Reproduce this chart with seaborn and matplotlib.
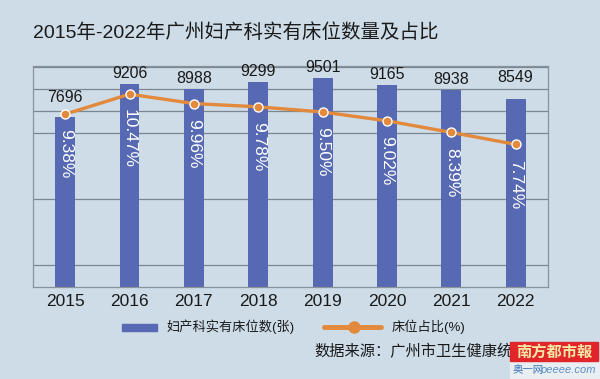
import numpy as np
import matplotlib.pyplot as plt
import seaborn as sns
import pandas as pd

years = ["2015", "2016", "2017", "2018", "2019", "2020", "2021", "2022"]
beds = [7696, 9206, 8988, 9299, 9501, 9165, 8938, 8549]
share = [9.38, 10.47, 9.96, 9.78, 9.50, 9.02, 8.39, 7.74]
share_labels = ["9.38%", "10.47%", "9.96%", "9.78%", "9.50%", "9.02%", "8.39%", "7.74%"]
grid_ticks = [1000, 4000, 7000, 8000, 9000, 10000]

TITLE = "2015年-2022年广州妇产科实有床位数量及占比"
BAR_NAME = "妇产科实有床位数(张)"
LINE_NAME = "床位占比(%)"
SOURCE = "数据来源：广州市卫生健康统计"

BG = "#cddce7"
BLUE = "#5669b2"
ORANGE = "#e2893b"
GRID = "#7c8690"
# extra lift (points) for value labels that sit clear of the line in the original
LABEL_LIFT = {0: 7, 7: 8}

df = pd.DataFrame({"year": years, "beds": beds, "share": share})

sns.set_style("white")
plt.rcParams["font.family"] = ["Liberation Sans", "Noto Sans CJK SC", "DejaVu Sans"]

fig = plt.figure(figsize=(6, 3.79), dpi=100, facecolor=BG)
ax = fig.add_axes([0.055, 0.2435, 0.858, 0.5823])
ax.set_facecolor(BG)

sns.barplot(df, x="year", y="beds", color=BLUE, saturation=1, width=0.31, ax=ax,
            linewidth=0, edgecolor="none")
ax.set_ylim(0, 10030)
ax.set_xlim(-0.5, 7.5)
ax.set_yticks(grid_ticks)
ax.set_yticklabels([])
ax.tick_params(axis="y", length=0)
ax.grid(axis="y", color=GRID, lw=0.9)
ax.set_axisbelow(True)
ax.set_xlabel("")
ax.set_ylabel("")
ax.tick_params(axis="x", length=0, labelsize=12.5, pad=5, colors="#1a1a1a")
ax.set_xticks([-0.5, 7.5], minor=True)
ax.tick_params(axis="x", which="minor", length=7, color="#8a939b", width=0.9)
for s in ax.spines.values():
    s.set_color("#8a939b")
    s.set_linewidth(0.9)

for i, v in enumerate(beds):
    ax.annotate(str(v), (i, v), xytext=(0, 2 + LABEL_LIFT.get(i, 0)), textcoords="offset points",
                ha="center", va="bottom", fontsize=11.5, color="#1a1a1a")

ax2 = ax.twinx()
sns.pointplot(df, x="year", y="share", color=ORANGE, ax=ax2, markers="o",
              markersize=6.5, markeredgecolor="white", markeredgewidth=1.0,
              linewidth=2.4)
ax2.set_ylim(0, 12)
ax2.set_xlim(-0.5, 7.5)
ax2.set_yticks([])
ax2.set_ylabel("")
ax2.set_xlabel("")
for s in ax2.spines.values():
    s.set_visible(False)

for i, (v, t) in enumerate(zip(share, share_labels)):
    ax2.annotate(t, (i, v), xytext=(0, -11), textcoords="offset points",
                 ha="center", va="top", rotation=270, fontsize=12.5, color="white")

fig.text(0.055, 1 - 33 / 379, TITLE, fontsize=14, va="center", ha="left", color="#1a1a1a")

# legend
fig.patches.append(plt.Rectangle((122 / 600, 1 - 331 / 379), 35 / 600, 7 / 379,
                                 transform=fig.transFigure, color=BLUE))
fig.text(167 / 600, 1 - 327 / 379, BAR_NAME, fontsize=9.5, va="center", color="#1a1a1a")
fig.add_artist(plt.Line2D([324 / 600, 381 / 600], [1 - 327 / 379] * 2, color=ORANGE, lw=3.5,
                          transform=fig.transFigure))
fig.add_artist(plt.Line2D([354 / 600], [1 - 327 / 379], color=ORANGE, marker="o", ms=8,
                          markeredgecolor=ORANGE, transform=fig.transFigure))
fig.text(392 / 600, 1 - 327 / 379, LINE_NAME, fontsize=9.5, va="center", color="#1a1a1a")

fig.text(314 / 600, 1 - 352 / 379, SOURCE, fontsize=11, va="center", color="#1a1a1a",
         fontweight="medium")

# masthead watermark, drawn over the source line as in the reference
fig.patches.append(plt.Rectangle((510 / 600, 0), 90 / 600, 18 / 379,
                                 transform=fig.transFigure, color="#e9eef2", zorder=5))
fig.patches.append(plt.Rectangle((510 / 600, 18 / 379), 88 / 600, 19 / 379,
                                 transform=fig.transFigure, color="#e0262b", zorder=5))
fig.text(554 / 600, 1 - 352 / 379, "南方都市報", fontsize=11, ha="center", va="center",
         color="#f6e7a4", fontweight="bold", zorder=6)
fig.text(513 / 600, 1 - 370 / 379, "奥一网", fontsize=7.5, ha="left", va="center",
         color="#3d78b8", zorder=6)
fig.text(541 / 600, 1 - 370 / 379, "oeeee.com", fontsize=8, ha="left", va="center",
         color="#5b8fc4", style="italic", zorder=6)

fig.savefig("out.png", dpi=100, facecolor=BG)
